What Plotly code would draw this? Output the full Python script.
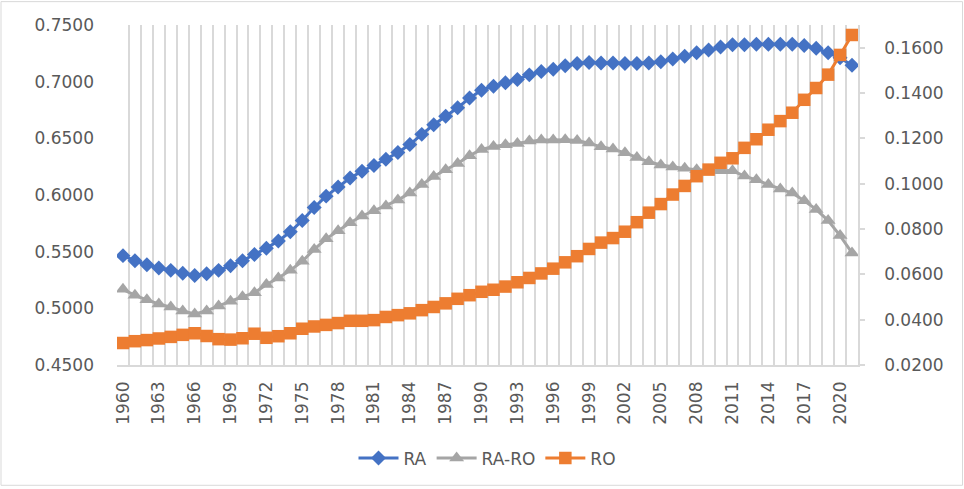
import plotly.graph_objects as go

# Years on the category axis
years = list(range(1960, 2022))

# RA series (left axis)
ra = [0.5465, 0.5420, 0.5385, 0.5355, 0.5335, 0.5310, 0.5290, 0.5305, 0.5335, 0.5375,
      0.5420, 0.5475, 0.5530, 0.5595, 0.5675, 0.5775, 0.5890, 0.5990, 0.6070, 0.6150,
      0.6210, 0.6260, 0.6315, 0.6375, 0.6445, 0.6535, 0.6620, 0.6695, 0.6770, 0.6855,
      0.6925, 0.6960, 0.6990, 0.7020, 0.7060, 0.7090, 0.7110, 0.7140, 0.7160, 0.7170,
      0.7165, 0.7165, 0.7160, 0.7160, 0.7165, 0.7175, 0.7200, 0.7225, 0.7255, 0.7280,
      0.7305, 0.7325, 0.7325, 0.7330, 0.7330, 0.7330, 0.7330, 0.7320, 0.7295, 0.7255,
      0.7210, 0.7145]

# RA-RO series (left axis)
ra_ro = [0.5168, 0.5115, 0.5075, 0.5038, 0.5011, 0.4977, 0.4950, 0.4977, 0.5021, 0.5063,
         0.5102, 0.5137, 0.5210, 0.5268, 0.5335, 0.5415, 0.5520, 0.5613, 0.5685, 0.5755,
         0.5815, 0.5862, 0.5903, 0.5955, 0.6017, 0.6093, 0.6164, 0.6223, 0.6278, 0.6347,
         0.6402, 0.6428, 0.6444, 0.6455, 0.6476, 0.6486, 0.6485, 0.6487, 0.6480, 0.6458,
         0.6425, 0.6405, 0.6372, 0.6330, 0.6293, 0.6265, 0.6248, 0.6235, 0.6222, 0.6218,
         0.6213, 0.6213, 0.6167, 0.6134, 0.6092, 0.6054, 0.6017, 0.5950, 0.5873, 0.5774,
         0.5642, 0.5489]

# RO series (right axis)
ro = [0.0297, 0.0305, 0.0310, 0.0317, 0.0324, 0.0333, 0.0340, 0.0328, 0.0314, 0.0312,
      0.0318, 0.0338, 0.0320, 0.0327, 0.0340, 0.0360, 0.0370, 0.0377, 0.0385, 0.0395,
      0.0395, 0.0398, 0.0412, 0.0420, 0.0428, 0.0442, 0.0456, 0.0472, 0.0492, 0.0508,
      0.0523, 0.0532, 0.0546, 0.0565, 0.0584, 0.0604, 0.0625, 0.0653, 0.0680, 0.0712,
      0.0740, 0.0760, 0.0788, 0.0830, 0.0872, 0.0910, 0.0952, 0.0990, 0.1033, 0.1062,
      0.1092, 0.1112, 0.1158, 0.1196, 0.1238, 0.1276, 0.1313, 0.1370, 0.1422, 0.1481,
      0.1568, 0.1656]

# Tick labels every third year
year_ticks = years[::3]

BLUE = "#4472C4"
GREY = "#A5A5A5"
ORANGE = "#ED7D31"
AXIS_GREY = "#D9D9D9"
TEXT = "#595959"
FONT = "DejaVu Sans"

fig = go.Figure()
fig.add_trace(go.Scatter(
    x=years, y=ra, name="RA", mode="lines+markers",
    line=dict(color=BLUE, width=3),
    marker=dict(symbol="diamond", size=11.5, color=BLUE),
))
fig.add_trace(go.Scatter(
    x=years, y=ra_ro, name="RA-RO", mode="lines+markers",
    line=dict(color=GREY, width=3),
    marker=dict(symbol="triangle-up", size=13, color=GREY),
))
fig.add_trace(go.Scatter(
    x=years, y=ro, name="RO", mode="lines+markers", yaxis="y2",
    line=dict(color=ORANGE, width=3),
    marker=dict(symbol="square", size=12.5, color=ORANGE),
))

W, H = 964, 489
ML, MR, MT, MB = 117, 106, 25, 122
pw, ph = W - ML - MR, H - MT - MB

fig.update_layout(
    width=W, height=H,
    margin=dict(l=ML, r=MR, t=MT, b=MB, pad=0),
    paper_bgcolor="white", plot_bgcolor="white",
    font=dict(family=FONT, size=17, color=TEXT),
    showlegend=True,
    legend=dict(
        orientation="h", x=0.5, xanchor="center",
        y=-(461 - 367) / ph, yanchor="middle",
        font=dict(family=FONT, size=17, color=TEXT),
        itemwidth=40, tracegroupgap=0,
    ),
    xaxis=dict(
        range=[1959.5, 2021.5],
        tickmode="array", tickvals=year_ticks, ticktext=[str(y) for y in year_ticks],
        tickangle=-90, showgrid=False, zeroline=False,
        showline=True, linecolor=AXIS_GREY, linewidth=1.5,
        ticks="", ticklabelstandoff=8,
        minor=dict(tickmode="linear", tick0=1959.5, dtick=1, showgrid=True,
                   gridcolor=AXIS_GREY, gridwidth=1.5),
        tickfont=dict(family=FONT, size=17, color=TEXT),
    ),
    yaxis=dict(
        range=[0.45, 0.75], tick0=0.45, dtick=0.05, tickformat=".4f",
        showgrid=False, zeroline=False, showline=False,
        ticks="", ticklabelstandoff=22,
        tickfont=dict(family=FONT, size=17, color=TEXT),
    ),
    yaxis2=dict(
        range=[0.02, 0.17], tick0=0.02, dtick=0.02, tickformat=".4f",
        overlaying="y", side="right",
        showgrid=False, zeroline=False,
        showline=True, linecolor=AXIS_GREY, linewidth=1.5,
        ticks="outside", ticklen=5, tickcolor=AXIS_GREY, tickwidth=1.5,
        ticklabelstandoff=16,
        tickfont=dict(family=FONT, size=17, color=TEXT),
    ),
)

# Light frame around the whole chart
fig.add_shape(
    type="rect", xref="paper", yref="paper", layer="below",
    x0=-(ML - 1) / pw, x1=(W - ML - 1.5) / pw,
    y0=-(MB - 1) / ph, y1=1 + (MT - 1.5) / ph,
    line=dict(color=AXIS_GREY, width=1), fillcolor="rgba(0,0,0,0)",
)

fig.write_html("out.html")
